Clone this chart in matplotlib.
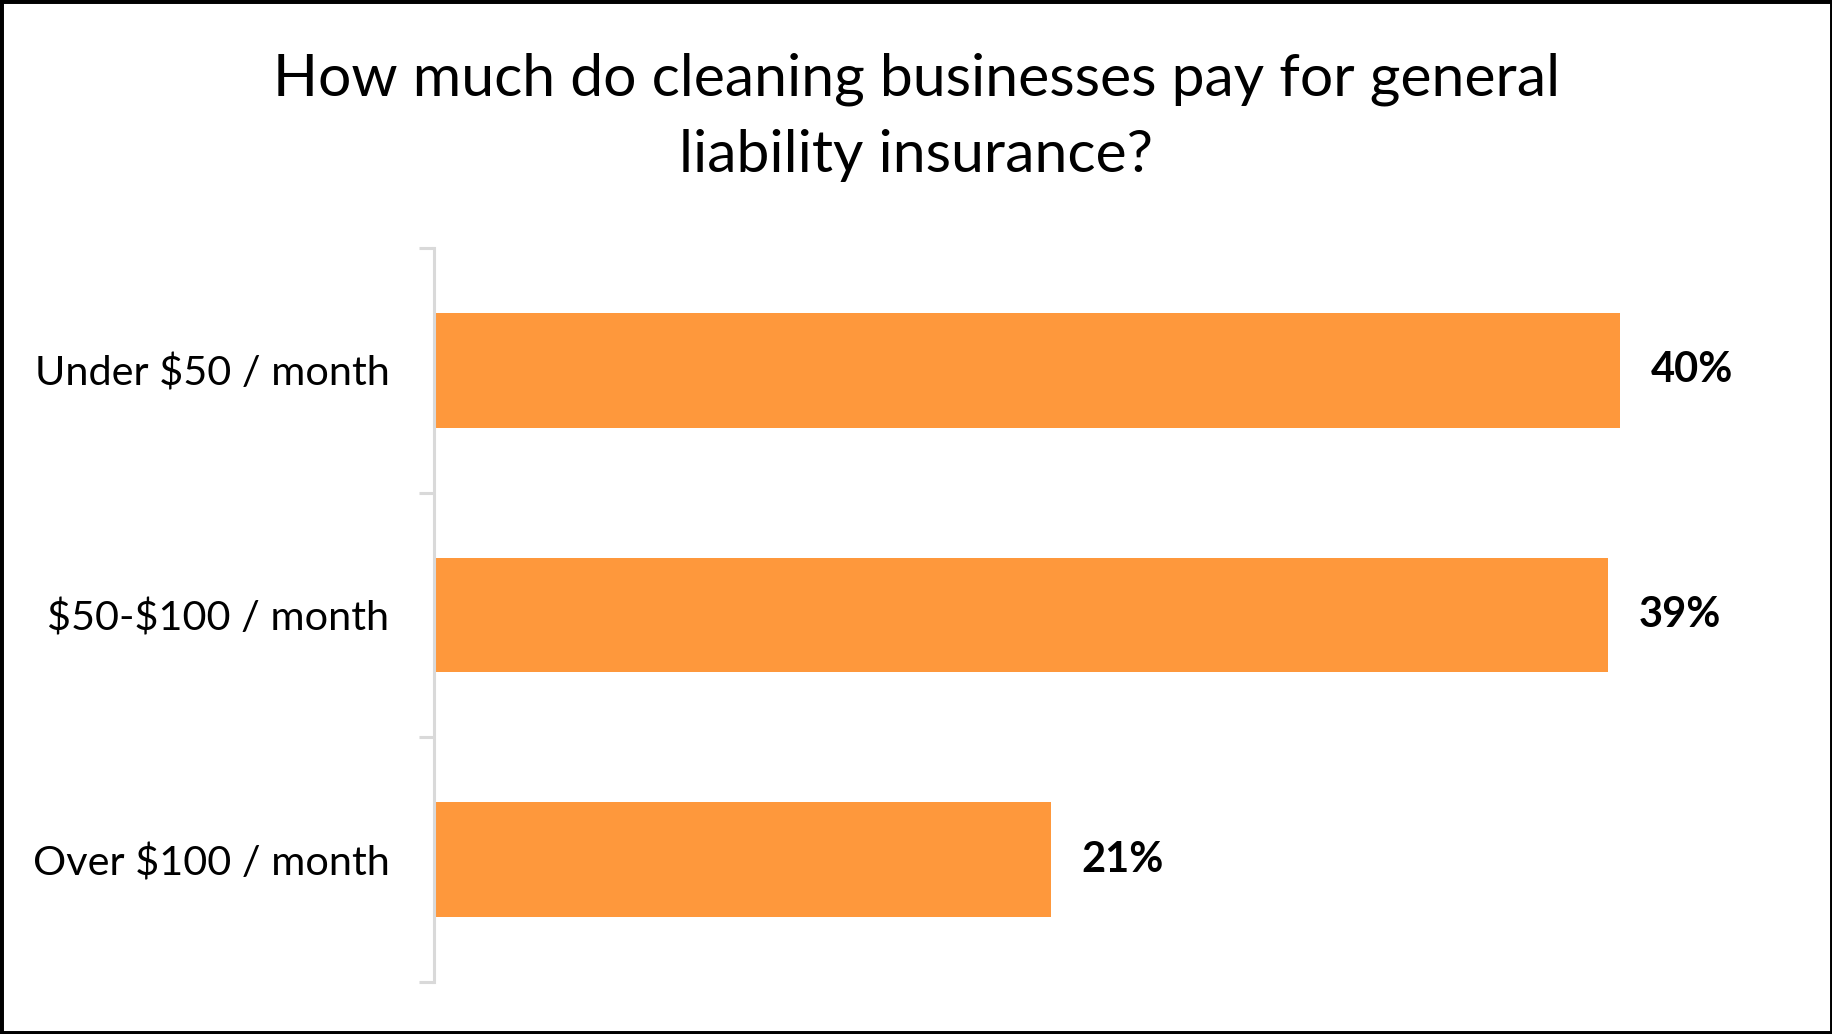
import matplotlib.pyplot as plt
from matplotlib.patches import Rectangle
from matplotlib.ticker import FixedLocator

# datos
categorias = ['Under $50 / month', '$50-$100 / month', 'Over $100 / month']
valores = [39.8, 39.4, 20.7]  # porcentaje (largo de la barra)
titulo = 'How much do cleaning businesses pay for general\nliability insurance?'

naranja = '#FE983C'
gris = '#D9D9D9'

plt.rcParams['font.family'] = ['Lato', 'DejaVu Sans']
plt.rcParams['text.parse_math'] = False  # los $ son texto normal

fig = plt.figure(figsize=(18.33, 10.34), dpi=100)
ax = fig.add_axes([434 / 1833, 52 / 1034, 1341 / 1833, 734 / 1034])

y = range(len(categorias))
ax.barh(y, valores, height=0.47, color=naranja)

# etiquetas de datos
for i, v in enumerate(valores):
    ax.annotate(f'{v:.0f}%', xy=(v, i), xytext=(31, 0), textcoords='offset pixels',
                va='center', ha='left', fontsize=30, fontweight='bold', color='black')

ax.set_xlim(0, 45)
ax.set_ylim(len(categorias) - 0.5, -0.5)

ax.set_yticks(list(y))
ax.set_yticklabels(categorias, fontsize=29.8)
ax.yaxis.set_minor_locator(FixedLocator([-0.5, 0.5, 1.5, 2.5]))
ax.tick_params(axis='y', which='major', length=0, pad=32)
ax.tick_params(axis='y', which='minor', length=10.8, width=2.2, color=gris)
ax.set_xticks([])

for lado in ['top', 'right', 'bottom']:
    ax.spines[lado].set_visible(False)
ax.spines['left'].set_color(gris)
ax.spines['left'].set_linewidth(2.2)

fig.text(0.5, 1 - 52 / 1034, titulo, ha='center', va='top', fontsize=42.4,
         linespacing=1.55, color='black')

# borde negro de la figura
fig.patches.append(Rectangle((0, 0), 1, 1, transform=fig.transFigure, fill=False,
                             edgecolor='black', linewidth=5, zorder=10))

fig.savefig('out.png', dpi=100)
